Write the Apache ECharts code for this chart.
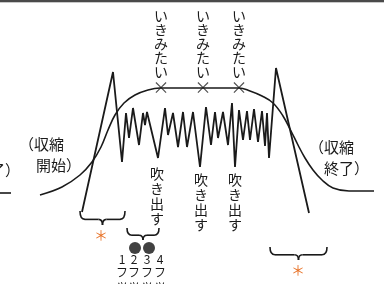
<!DOCTYPE html>
<html>
<head>
<meta charset="utf-8">
<script src="https://cdn.jsdelivr.net/npm/echarts@6/dist/echarts.min.js"></script>
<style>
html,body{margin:0;padding:0;background:#fff;}
#main{width:384px;height:284px;}
</style>
</head>
<body>
<div id="main"></div>
<script>
//陣痛の波といきみ逃し
var waveData = [
    [82,212],[113,72],[122,162],[126,113],[129,138],[133,108],[139,145],[143,113],
    [145,125],[147,112],[158,158],[165,108],[168,135],[173,113],[178,147],[183,112],
    [187,147],[193,112],[200,167],[206,107],[211,145],[215,112],[218,138],[223,112],
    [228,145],[232,103],[235,167],[239,110],[243,140],[247,111],[250,140],[254,109],
    [258,142],[262,111],[265,146],[267,113],[269,158],[276,68],[309,213]
];
var curveData = [
    [40,195],[62,187],[80,175],[92,162],[101,147],[108,130],[115,115],[124,103],
    [135,95],[148,90],[160,88],[202,88],[239,88],[250,91],[262,96],[273,103],
    [283,116],[291,131],[298,145],[305,158],[313,170],[322,180],[333,188],[349,191],[374,191]
];
var prevTail = [[-5,193],[11,193]];
var crossData = [[161,88],[203,88],[239,88]];
var dotData = [[135,248],[149,248]];
var upLabel = 'いきみたい';
var downLabel = '吹き出す';
var countLabels = ['1','2','3','4'];
var startLabel = ['（収縮', '開始）'];
var endLabel = ['（収縮', '終了）'];

var FONT = '"Noto Sans CJK JP"';
var INK = '#1a1a1a';

function vtext(str, x, y, size, lh) {
    return {
        type: 'text', x: x, y: y, z: 10,
        style: {
            text: str.split('').join('\n'),
            font: size + 'px ' + FONT,
            fill: INK,
            align: 'center',
            lineHeight: lh
        }
    };
}
function htext(str, x, y, size, color) {
    return {
        type: 'text', x: x, y: y, z: 10,
        style: { text: str, font: size + 'px ' + FONT, fill: color || INK }
    };
}
// 波括弧（下向き）
function brace(x1, x2, y0, h) {
    var ym = y0 + h * 0.6, mid = (x1 + x2) / 2, yt = y0 + h;
    var st = { stroke: INK, fill: null, lineWidth: 1.6 };
    function q(a, b, c, d, e, f) {
        return { type: 'bezierCurve', z: 10, shape: { x1: a, y1: b, cpx1: c, cpy1: d, x2: e, y2: f }, style: st };
    }
    function l(a, b, c, d) {
        return { type: 'line', z: 10, shape: { x1: a, y1: b, x2: c, y2: d }, style: st };
    }
    return [
        q(x1, y0, x1, ym, x1 + 5, ym),
        l(x1 + 5, ym, mid - 4, ym),
        q(mid - 4, ym, mid, ym, mid, yt),
        q(mid, yt, mid, ym, mid + 4, ym),
        l(mid + 4, ym, x2 - 5, ym),
        q(x2 - 5, ym, x2, ym, x2, y0)
    ];
}

var graphics = [
    { type: 'rect', shape: { x: 0, y: 0, width: 384, height: 2 }, style: { fill: '#4a4a4a' } },
    { type: 'rect', shape: { x: 0, y: 2, width: 384, height: 1 }, style: { fill: '#c8c8c8' } },
    vtext(upLabel, 161, 9, 14, 14),
    vtext(upLabel, 203, 9, 14, 14),
    vtext(upLabel, 239, 9, 14, 14),
    vtext(downLabel, 157, 166, 14, 15),
    vtext(downLabel, 201, 172, 14, 15),
    vtext(downLabel, 235, 172, 14, 15),
    htext(startLabel[0], 19, 137, 15),
    htext(startLabel[1], 36, 158, 15),
    htext(endLabel[0], 309, 140, 15),
    htext(endLabel[1], 324, 161, 15),
    htext('了）', -10, 163, 15),
    htext('＊', 94, 228, 14, '#e8742a'),
    htext('＊', 291, 263, 14, '#e8742a')
];
graphics = graphics.concat(brace(80, 125, 211, 14), brace(127, 159, 228, 12), brace(270, 327, 247, 13));
var cx = [122, 134, 147, 160];
countLabels.forEach(function (c, i) {
    graphics.push(vtext(c, cx[i], 254, 12, 11));
    graphics.push(vtext('フッ', cx[i], 266, 12, 12));
});

var chart = echarts.init(document.getElementById('main'));
var option = {
    animation: false,
    grid: { left: 0, right: 0, top: 0, bottom: 0 },
    xAxis: { type: 'value', min: 0, max: 384, show: false },
    yAxis: { type: 'value', min: 0, max: 284, inverse: true, show: false },
    series: [
        {
            type: 'line', data: waveData, symbol: 'none',
            lineStyle: { color: INK, width: 1.8 }
        },
        {
            type: 'line', data: curveData, symbol: 'none', smooth: 0.4,
            lineStyle: { color: INK, width: 1.6 }
        },
        {
            type: 'line', data: prevTail, symbol: 'none',
            lineStyle: { color: INK, width: 1.6 }
        },
        {
            type: 'scatter', data: crossData, symbolSize: 1,
            itemStyle: { color: 'transparent' },
            label: { show: true, position: 'inside', formatter: '×', fontSize: 17, color: INK, fontFamily: 'Noto Sans CJK JP' }
        },
        {
            type: 'scatter', data: dotData, symbolSize: 12,
            itemStyle: { color: '#111' }
        }
    ],
    graphic: graphics
};
chart.setOption(option);
</script>
</body>
</html>
